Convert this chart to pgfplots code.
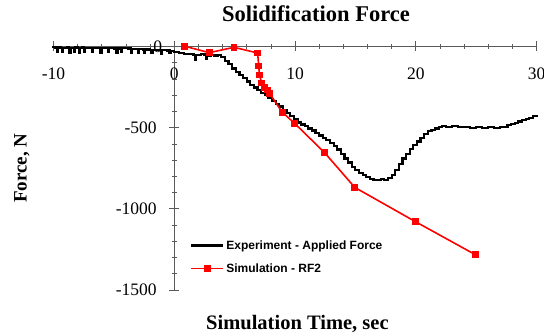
\documentclass[border=0pt]{standalone}
\usepackage{fontspec}
\setmainfont{Liberation Serif}
\newfontfamily\legendfont{Liberation Sans}
\usepackage{pgfplots}
\pgfplotsset{compat=1.18}
\definecolor{axgray}{HTML}{5A5A5A}
\begin{document}
\begin{tikzpicture}
\begin{axis}[
  at={(0,0)}, anchor=south west,
  scale only axis, width=483bp, height=243.5bp,
  xmin=-10, xmax=30, ymin=-1500, ymax=0,
  axis x line=top, axis y line=middle,
  axis line style={-, draw=axgray, line width=0.8bp},
  every tick/.style={draw=axgray, line width=0.7bp},
  xtick={-10,0,10,20,30}, xticklabels={-10,0,10,20,30},
  ytick={-1500,-1000,-500,0}, yticklabels={-1500,-1000,-500,0},
  minor x tick num=4, minor y tick num=4,
  tick align=center, major tick length=10bp, minor tick length=5bp,
  xticklabel style={font=\fontsize{17.5bp}{20bp}\selectfont, anchor=center, yshift=-32.5bp},
  yticklabel style={font=\fontsize{17.5bp}{20bp}\selectfont, anchor=east, xshift=-9bp},
  title={\bfseries Solidification Force},
  title style={font=\fontsize{22.5bp}{26bp}\selectfont, at={(axis description cs:0.5435,1.0768)}, anchor=base},
  xlabel={\bfseries Simulation Time, sec},
  xlabel style={font=\fontsize{20.5bp}{24bp}\selectfont, at={(axis description cs:0.505,-0.161)}, anchor=base},
  ylabel={\bfseries Force, N},
  ylabel style={font=\fontsize{19bp}{22bp}\selectfont, at={(axis description cs:-0.0555,0.5)}, anchor=base, rotate=90},
  clip=false,
  legend style={draw=none, fill=none, at={(axis description cs:0.2826,0.1355)}, anchor=west,
    font=\legendfont\bfseries\fontsize{12bp}{14bp}\selectfont, row sep=9bp, inner sep=0bp,
    /tikz/every even column/.append style={column sep=0bp}},
  legend cell align=left,
  legend image code/.code={\draw[mark repeat=2,mark phase=2,#1] plot coordinates {(0bp,0bp) (16bp,0bp) (32bp,0bp)};},
]
\node[anchor=east, font=\fontsize{17.5bp}{20bp}\selectfont, inner sep=0bp] at (axis cs:0,0) [xshift=-12bp] {0};
\addplot[black, line width=2.2bp, const plot] coordinates {
(-10.1,-4) (-9.9,-6) (-9.7,-36) (-9.6,-6) (-9.4,-8) (-9.3,-32) (-9.2,-7) (-8.9,-6)
(-8.7,-38) (-8.6,-8) (-8.4,-7) (-8.3,-34) (-8.2,-6) (-8.0,-9) (-7.9,-40) (-7.8,-8)
(-7.6,-6) (-7.5,-34) (-7.4,-7) (-7.0,-8) (-6.8,-36) (-6.7,-9) (-6.3,-7) (-6.1,-38)
(-6.0,-8) (-5.7,-10) (-5.5,-36) (-5.4,-9) (-5.0,-12) (-4.85,-40) (-4.7,-12) (-4.5,-10)
(-4.4,-36) (-4.3,-11) (-3.8,-12) (-3.6,-40) (-3.5,-14) (-3.2,-15) (-3.0,-40) (-2.9,-16)
(-2.6,-18) (-2.5,-40) (-2.4,-18) (-2.0,-20) (-1.9,-42) (-1.8,-20) (-1.3,-22) (-1.1,-44)
(-1.0,-22) (-0.6,-25) (-0.4,-42) (-0.3,-28) (0.0,-35) (0.4,-40) (0.8,-45) (1.0,-48)
(1.3,-44) (1.6,-50) (1.7,-82) (1.8,-52) (2.2,-48) (2.5,-50) (2.6,-78) (2.7,-55)
(3.0,-50) (3.3,-55) (3.6,-52) (3.9,-65) (4.2,-90) (4.5,-110) (4.8,-135) (5.1,-155)
(5.4,-175) (5.7,-195) (6.0,-215) (6.3,-235) (6.6,-252) (6.9,-268) (7.2,-285) (7.5,-300)
(7.8,-318) (8.1,-335) (8.4,-352) (8.7,-370) (9.0,-390) (9.3,-410) (9.6,-430) (9.9,-450)
(10.2,-468) (10.5,-480) (10.8,-492) (11.1,-505) (11.4,-518) (11.7,-532) (12.0,-548) (12.3,-562)
(12.6,-575) (12.9,-592) (13.2,-612) (13.5,-635) (13.8,-660) (14.1,-690) (14.4,-715) (14.7,-740)
(15.0,-760) (15.3,-778) (15.6,-792) (15.9,-805) (16.2,-815) (16.5,-820) (16.8,-822) (17.1,-818)
(17.4,-824) (17.7,-812) (18.0,-790) (18.3,-760) (18.6,-725) (18.9,-690) (19.2,-660) (19.5,-630)
(19.8,-605) (20.1,-585) (20.4,-565) (20.7,-540) (21.0,-522) (21.3,-515) (21.6,-505) (21.9,-498)
(22.2,-492) (22.5,-495) (23.0,-492) (23.5,-498) (24.0,-495) (24.5,-500) (25.0,-497) (25.5,-500)
(26.0,-496) (26.5,-500) (27.0,-498) (27.3,-494) (27.6,-485) (27.9,-478) (28.2,-470) (28.5,-462)
(28.8,-455) (29.1,-448) (29.4,-440) (29.7,-430) (30.0,-420)
};
\addlegendentry{Experiment - Applied Force}
\addplot[red, line width=1.6bp, mark=square*, mark size=2.6bp, mark options={solid}] coordinates {
(0.85,2) (2.9,-38) (4.95,-5) (6.9,-40) (7.0,-120) (7.05,-175) (7.25,-225) (7.5,-255)
(7.75,-268) (7.9,-290) (8.95,-405) (9.95,-472) (12.45,-654) (14.95,-868) (19.95,-1078) (24.95,-1283)
};
\addlegendentry{Simulation - RF2}
\end{axis}
\pgfresetboundingbox
\path[use as bounding box] (-53.5bp,-45bp) rectangle (490.5bp,290bp);
\end{tikzpicture}
\end{document}
